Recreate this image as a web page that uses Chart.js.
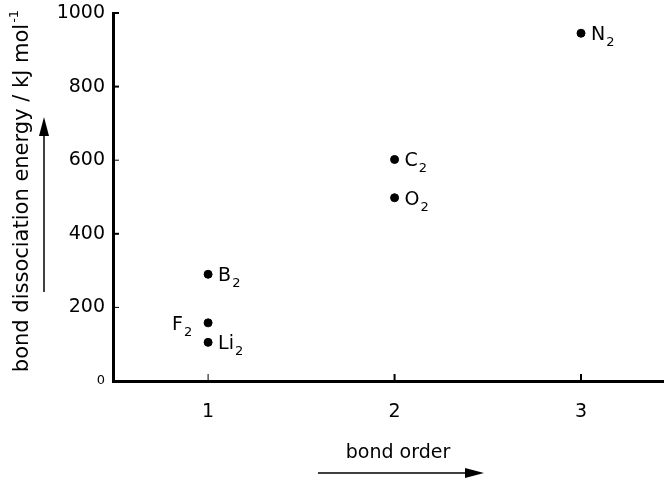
<!DOCTYPE html>
<html>
<head>
<meta charset="utf-8">
<script src="https://cdn.jsdelivr.net/npm/chart.js@4.4.0/dist/chart.umd.min.js"></script>
<style>
  html, body { margin: 0; padding: 0; background: #fff; }
  #wrap { width: 664px; height: 483px; }
</style>
</head>
<body>
<div id="wrap"><canvas id="bondChart" width="664" height="483"></canvas></div>
<script>
// dữ liệu
const molecules = ["Li", "B", "C", "N", "O", "F"];
const bondOrder = [1, 1, 2, 3, 2, 1];
const energy = [105, 290, 602, 945, 498, 158]; // kJ/mol
const yTicks = [0, 200, 400, 600, 800, 1000];
const xTicks = [1, 2, 3];
const labelLeft = [false, false, false, false, false, true];

const FONT = "'DejaVu Sans', sans-serif";

// vẽ nhãn, vạch chia hướng vào trong, tiêu đề trục và mũi tên
const extras = {
  id: "extras",
  afterDraw(chart) {
    const ctx = chart.ctx;
    const area = chart.chartArea;
    const xs = chart.scales.x;
    const ys = chart.scales.y;
    ctx.save();
    ctx.strokeStyle = "#000";
    ctx.fillStyle = "#000";

    // vạch chia
    yTicks.forEach((v) => {
      const py = ys.getPixelForValue(v);
      ctx.lineWidth = (v === 600 || v === 200) ? 1 : 2;
      ctx.beginPath();
      ctx.moveTo(area.left, py);
      ctx.lineTo(area.left + 6, py);
      ctx.stroke();
    });
    xTicks.forEach((v) => {
      const px = xs.getPixelForValue(v);
      ctx.lineWidth = v === 1 ? 1 : 2;
      ctx.beginPath();
      ctx.moveTo(px, area.bottom);
      ctx.lineTo(px, area.bottom - 7);
      ctx.stroke();
    });

    // nhãn phân tử
    const meta = chart.getDatasetMeta(0);
    meta.data.forEach((pt, i) => {
      const main = molecules[i];
      ctx.font = "19px " + FONT;
      const w = ctx.measureText(main).width;
      ctx.textBaseline = "alphabetic";
      ctx.textAlign = "left";
      const x0 = labelLeft[i] ? pt.x - 36 : pt.x + 10;
      ctx.fillText(main, x0, pt.y + 7);
      ctx.font = "13px " + FONT;
      ctx.fillText("2", x0 + w + 1, pt.y + 13);
    });

    // tiêu đề trục y
    ctx.save();
    ctx.translate(28, 190);
    ctx.rotate(-Math.PI / 2);
    ctx.textAlign = "center";
    ctx.textBaseline = "alphabetic";
    ctx.font = "21px " + FONT;
    const t = "bond dissociation energy / kJ mol";
    const tw = ctx.measureText(t).width;
    ctx.fillText(t, -8, 0);
    ctx.font = "13px " + FONT;
    ctx.textAlign = "left";
    ctx.fillText("-1", -8 + tw / 2 + 1, -10);
    ctx.restore();

    // mũi tên dọc
    ctx.lineWidth = 1.5;
    ctx.beginPath();
    ctx.moveTo(44, 292);
    ctx.lineTo(44, 130);
    ctx.stroke();
    ctx.beginPath();
    ctx.moveTo(44, 117);
    ctx.lineTo(39, 136);
    ctx.lineTo(49, 136);
    ctx.closePath();
    ctx.fill();

    // tiêu đề trục x
    ctx.textAlign = "center";
    ctx.textBaseline = "alphabetic";
    ctx.font = "19px " + FONT;
    ctx.fillText("bond order", 398, 458);

    // mũi tên ngang
    ctx.lineWidth = 1.5;
    ctx.beginPath();
    ctx.moveTo(318, 473);
    ctx.lineTo(468, 473);
    ctx.stroke();
    ctx.beginPath();
    ctx.moveTo(484, 473);
    ctx.lineTo(465, 468);
    ctx.lineTo(465, 478);
    ctx.closePath();
    ctx.fill();
    ctx.restore();
  },
};

const config = {
  type: "scatter",
  data: {
    datasets: [
      {
        data: bondOrder.map((b, i) => ({ x: b, y: energy[i] })),
        backgroundColor: "#000",
        borderColor: "#000",
        pointRadius: 4,
        pointHoverRadius: 4,
        clip: false,
      },
    ],
  },
  options: {
    responsive: false,
    animation: false,
    layout: { autoPadding: false, padding: { top: 13, right: 0, left: 0, bottom: 0 } },
    plugins: {
      legend: { display: false },
      tooltip: { enabled: false },
    },
    scales: {
      x: {
        type: "linear",
        min: 0.49,
        max: 3.445,
        afterBuildTicks: (s) => { s.ticks = xTicks.map((v) => ({ value: v })); },
        afterFit: (s) => { s.height = 102; s.paddingLeft = 0; s.paddingRight = 0; },
        grid: { display: false, drawTicks: false },
        border: { display: true, color: "#000", width: 3 },
        ticks: {
          color: "#000",
          padding: 20,
          font: { family: "DejaVu Sans", size: 19 },
          callback: (v) => String(v),
        },
      },
      y: {
        type: "linear",
        min: 0,
        max: 1000,
        afterBuildTicks: (s) => { s.ticks = yTicks.map((v) => ({ value: v })); },
        afterFit: (s) => { s.width = 113; s.paddingTop = 0; s.paddingBottom = 0; },
        grid: { display: false, drawTicks: false },
        border: { display: true, color: "#000", width: 3 },
        ticks: {
          color: "#000",
          padding: 8,
          callback: (v) => String(v),
          font: (c) => ({ family: "DejaVu Sans", size: c.tick && c.tick.value === 0 ? 13 : 19 }),
        },
      },
    },
  },
  plugins: [extras],
};

const bondChart = new Chart(document.getElementById("bondChart"), config);
</script>
</body>
</html>
